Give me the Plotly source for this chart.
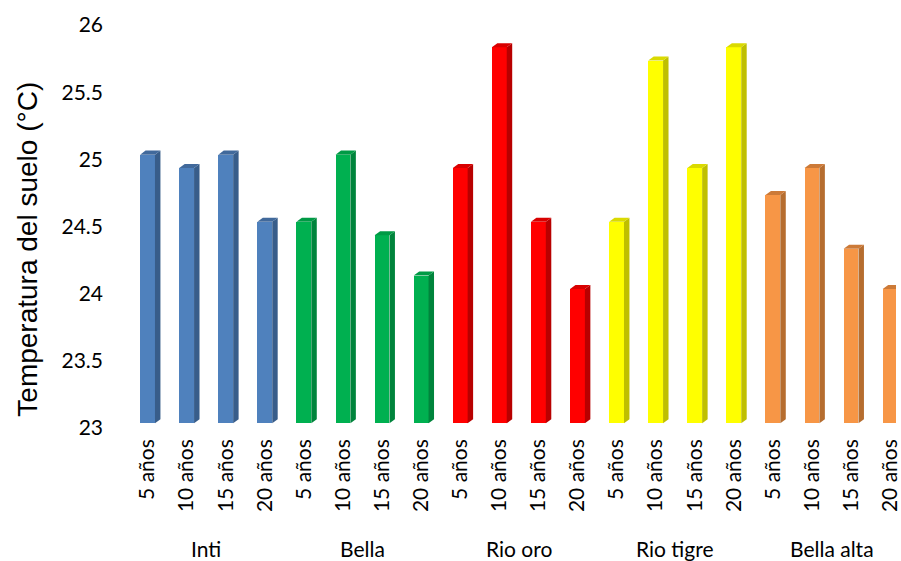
import plotly.graph_objects as go

# Soil temperature by site and plantation age
groups = ["Inti", "Bella", "Rio oro", "Rio tigre", "Bella alta"]
ages = ["5 años", "10 años", "15 años", "20 años"]
temps = {
    "Inti":       [25.0, 24.9, 25.0, 24.5],
    "Bella":      [24.5, 25.0, 24.4, 24.1],
    "Rio oro":    [24.9, 25.8, 24.5, 24.0],
    "Rio tigre":  [24.5, 25.7, 24.9, 25.8],
    "Bella alta": [24.7, 24.9, 24.3, 24.0],
}
front_colors = {"Inti": "#4F81BD", "Bella": "#00B050", "Rio oro": "#FF0000",
                "Rio tigre": "#FFFF00", "Bella alta": "#F79646"}
side_colors = {"Inti": "#385D8A", "Bella": "#00843C", "Rio oro": "#B80000",
               "Rio tigre": "#BFBF00", "Bella alta": "#B66D2F"}
top_colors = {"Inti": "#41699B", "Bella": "#009A45", "Rio oro": "#D80000",
              "Rio tigre": "#DADA00", "Bella alta": "#CC7A38"}

y_ticks = [23, 23.5, 24, 24.5, 25, 25.5, 26]
Y_FLOOR = 23.0

# pseudo-3D geometry (axis units)
BAR_W = 0.38
DX = 0.14
DY = 0.03
LIFT = 0.035

FONT = "Lato"

fig = go.Figure()
tick_x, tick_text = [], []
i = 0
for g in groups:
    xs = list(range(i, i + len(ages)))
    vals = temps[g]
    fig.add_trace(go.Bar(
        x=xs, y=[v - Y_FLOOR for v in vals], base=Y_FLOOR + LIFT, width=BAR_W,
        marker=dict(color=front_colors[g], line=dict(width=0)),
        showlegend=False, hoverinfo="skip"))
    for x, v in zip(xs, vals):
        xl, xr = x - BAR_W / 2, x + BAR_W / 2
        b, t = Y_FLOOR + LIFT, v + LIFT
        # side face
        fig.add_trace(go.Scatter(
            x=[xr, xr + DX, xr + DX, xr, xr], y=[b, b + DY, t + DY, t, b],
            fill="toself", fillcolor=side_colors[g], mode="none",
            showlegend=False, hoverinfo="skip"))
        # top face
        fig.add_trace(go.Scatter(
            x=[xl, xl + DX, xr + DX, xr, xl], y=[t, t + DY, t + DY, t, t],
            fill="toself", fillcolor=top_colors[g], mode="none",
            showlegend=False, hoverinfo="skip"))
    tick_x += xs
    tick_text += ages
    fig.add_annotation(x=(xs[0] + xs[-1]) / 2, y=-0.30, xref="x", yref="paper",
                       text=g, showarrow=False, yanchor="middle",
                       font=dict(family=FONT, size=21, color="black"))
    i += len(ages)

fig.add_annotation(x=-0.132, y=0.444, xref="paper", yref="paper",
                   text="Temperatura del suelo (°C)", textangle=-90,
                   showarrow=False, xanchor="center", yanchor="middle",
                   font=dict(family="Liberation Sans", size=28, color="black"))

fig.update_layout(
    width=901, height=561,
    margin=dict(l=128, r=0, t=25, b=133),
    paper_bgcolor="white", plot_bgcolor="white",
    bargap=0,
    xaxis=dict(range=[-0.5, 19.15], tickmode="array", tickvals=tick_x,
               ticktext=tick_text, tickangle=-90, showgrid=False,
               zeroline=False, showline=False, ticks="",
               ticklabelstandoff=6, ticklabeloverflow="allow",
               tickfont=dict(family=FONT, size=21, color="black")),
    yaxis=dict(range=[23, 26], tickmode="array", tickvals=y_ticks,
               ticktext=[f"{v:g}" for v in y_ticks], showgrid=False,
               zeroline=False, showline=False, ticks="",
               ticklabelstandoff=24,
               tickfont=dict(family=FONT, size=21, color="black")),
)

fig.write_html("out.html")
